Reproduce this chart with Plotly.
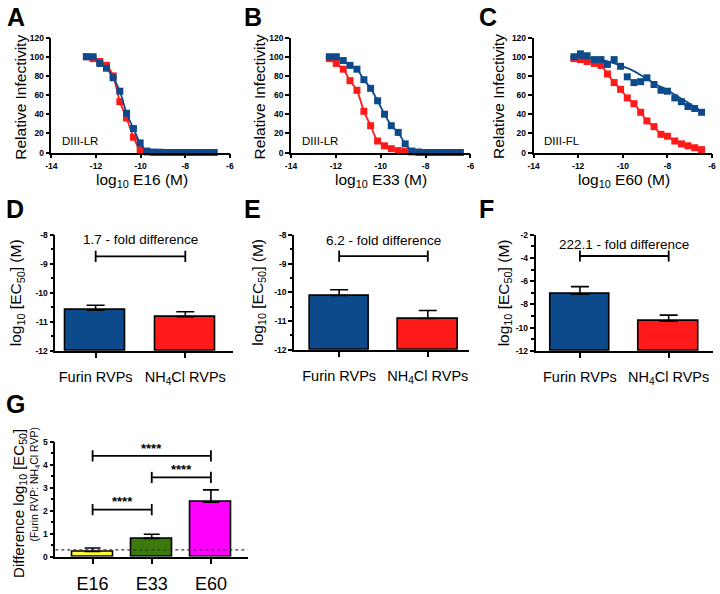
import plotly.graph_objects as go

FONT = "Liberation Sans, Arial, sans-serif"
BLUE = "#0d4a8c"
RED = "#ff1a1a"

# ---------------- data: panels A-C (dose response) ----------------
A_x = [-12.43, -12.13, -11.83, -11.53, -11.23, -10.93, -10.63, -10.32, -10.02, -9.72,
       -9.42, -9.12, -8.82, -8.52, -8.22, -7.92, -7.62, -7.32, -7.01, -6.71]
A_furin = [100, 100, 93, 88, 78, 64, 41, 25, 10, 1.5, 0.5, 0.3, 0, 0, 0, 0, 0, 0, 0, 0]
A_nh4cl = [100, 98, 95, 91, 80, 53, 36, 16, 3, 0.5, 0, 0, 0, 0, 0, 0, 0, 0, 0, 0]

B_x = [-12.29, -11.98, -11.67, -11.37, -11.06, -10.75, -10.45, -10.14, -9.83, -9.53,
       -9.22, -8.91, -8.61, -8.30, -7.99, -7.69, -7.38, -7.07, -6.77, -6.46]
B_furin = [100, 100, 96, 91, 87, 76, 67, 54, 40, 28, 21, 9, 1.5, 0.5, 0, 0, 0, 0, 0, 0]
B_nh4cl = [98, 93, 87, 75, 65, 43, 28, 12, 7, 4, 2, 1, 0.5, 0, 0, 0, 0, 0, 0, 0]

C_x = [-12.19, -11.9, -11.6, -11.28, -10.98, -10.69, -10.39, -10.1, -9.8, -9.5,
       -9.2, -8.92, -8.6, -8.29, -8.0, -7.67, -7.37, -7.08, -6.78, -6.47]
C_furin = [100, 103, 101, 97, 97, 92, 97, 90, 79, 73, 74, 78, 71, 65, 64, 57, 53, 48, 46, 42]
C_nh4cl = [98, 97, 95, 93, 91, 82, 73, 66, 57, 51, 42, 33, 27, 19, 17, 12, 9, 7, 5, 3]
C_furin_fit_x = [-12.19, -11.0, -10.0, -9.5, -9.0, -8.5, -8.0, -7.5, -7.0, -6.47]
C_furin_fit_y = [99, 97, 90, 85, 78, 71, 65, 58, 51, 43]

curve_labels = ["DIII-LR", "DIII-LR", "DIII-FL"]
antibodies = ["E16", "E33", "E60"]

# ---------------- data: panels D-F (EC50) ----------------
rvp_labels = ["Furin RVPs", "NH<sub>4</sub>Cl RVPs"]
D_ec50 = [-10.60, -10.82]
D_err_top = [-10.43, -10.65]
E_ec50 = [-10.11, -10.91]
E_err_top = [-9.91, -10.63]
F_ec50 = [-7.12, -9.44]
F_err_top = [-6.46, -8.92]
fold_texts = ["1.7 - fold difference", "6.2 - fold difference", "222.1 - fold difference"]
fold_bracket_y = [-8.74, -8.74, -3.82]
fold_text_y = [-8.17, -8.2, -2.85]

# ---------------- data: panel G ----------------
G_labels = ["E16", "E33", "E60"]
G_diff = [0.23, 0.80, 2.37]
G_err_top = [0.38, 0.98, 2.91]
G_colors = ["#ffff33", "#3c7a0e", "#ff00ff"]
G_threshold = 0.3
G_pairs = [(0, 2), (1, 2), (0, 1)]
G_bracket_y = [4.39, 3.45, 2.05]
G_star_y = [4.72, 3.78, 2.4]
G_star_text = ["****", "****", "****"]

W, H = 720, 594


def fx(p):
    return p / W


def fy(p):
    return 1 - p / H


fig = go.Figure()

tickfont = dict(family=FONT, size=8.5, color="black", weight="bold")


def axis_style(domain, rng, tickvals, ticktext, minor_dtick=None, anchor=None, font=None):
    d = dict(domain=domain, range=rng, showline=True, linecolor="black", linewidth=1.6,
             ticks="outside", ticklen=4, tickwidth=1.6, tickcolor="black",
             showgrid=False, zeroline=False, tickvals=tickvals, ticktext=ticktext,
             tickfont=font or tickfont, anchor=anchor, fixedrange=True)
    if minor_dtick:
        d["minor"] = dict(ticks="outside", dtick=minor_dtick, ticklen=2.5, tickwidth=1.6,
                          tickcolor="black", showgrid=False)
    return d


layout_axes = {}

# panels A-C
curve_panels = [
    (A_x, A_furin, A_nh4cl, None, None, (46, 227)),
    (B_x, B_furin, B_nh4cl, None, None, (289, 471)),
    (C_x, C_furin, C_nh4cl, C_furin_fit_x, C_furin_fit_y, (535, 716)),
]
xt = [-14, -12, -10, -8, -6]
yt = [0, 20, 40, 60, 80, 100, 120]
for i, (xs, fur, nh, fitx, fity, (x0, x1)) in enumerate(curve_panels):
    n = i + 1
    xa = "x" if n == 1 else f"x{n}"
    ya = "y" if n == 1 else f"y{n}"
    layout_axes["xaxis" if n == 1 else f"xaxis{n}"] = axis_style(
        [fx(x0), fx(x1)], [-14, -6], xt, [str(v) for v in xt], anchor=ya)
    layout_axes["yaxis" if n == 1 else f"yaxis{n}"] = axis_style(
        [fy(154), fy(34)], [0, 120], yt, [str(v) for v in yt], anchor=xa)
    # red (NH4Cl) first, blue (Furin) on top
    fig.add_trace(go.Scatter(x=xs, y=nh, mode="lines+markers", xaxis=xa, yaxis=ya,
                             line=dict(color=RED, width=1.8, shape="spline", smoothing=0.7),
                             marker=dict(symbol="square", size=7, color=RED),
                             cliponaxis=False, showlegend=False))
    if fitx is None:
        fig.add_trace(go.Scatter(x=xs, y=fur, mode="lines+markers", xaxis=xa, yaxis=ya,
                                 line=dict(color=BLUE, width=1.8, shape="spline", smoothing=0.7),
                                 marker=dict(symbol="square", size=7, color=BLUE),
                                 cliponaxis=False, showlegend=False))
    else:
        fig.add_trace(go.Scatter(x=fitx, y=fity, mode="lines", xaxis=xa, yaxis=ya,
                                 line=dict(color=BLUE, width=1.8, shape="spline", smoothing=1),
                                 cliponaxis=False, showlegend=False))
        fig.add_trace(go.Scatter(x=xs, y=fur, mode="markers", xaxis=xa, yaxis=ya,
                                 marker=dict(symbol="square", size=7, color=BLUE),
                                 cliponaxis=False, showlegend=False))
    fig.add_annotation(x=-13.6, y=12, xref=xa, yref=ya, text=curve_labels[i],
                       showarrow=False, xanchor="left", yanchor="middle",
                       font=dict(family=FONT, size=11.5, color="black"))

# panels D-F
bar_panels = [
    (D_ec50, D_err_top, (50, 230), (240, 361), [-0.45, 1.53], [-12, -8], 1, 0.5),
    (E_ec50, E_err_top, (292, 470), (240, 360), [-0.51, 1.47], [-12, -8], 1, 0.5),
    (F_ec50, F_err_top, (537, 717), (240, 361), [-0.5, 1.5], [-12, -2], 2, 1),
]
catfont = dict(family=FONT, size=14.5, color="black")
for j, (vals, tops, (x0, x1), (y0, y1), xr, yr, dt, mdt) in enumerate(bar_panels):
    n = j + 4
    xa, ya = f"x{n}", f"y{n}"
    base = yr[0]
    yv = list(range(yr[0], yr[1] + 1, dt))
    layout_axes[f"xaxis{n}"] = axis_style([fx(x0), fx(x1)], xr, [0, 1], rvp_labels,
                                          anchor=ya, font=catfont)
    layout_axes[f"xaxis{n}"]["ticklen"] = 5
    layout_axes[f"xaxis{n}"]["ticklabelstandoff"] = 7
    layout_axes[f"yaxis{n}"] = axis_style([fy(y1), fy(y0)], yr, yv, [str(v) for v in yv],
                                          minor_dtick=mdt, anchor=xa)
    fig.add_trace(go.Bar(x=[0, 1], y=[v - base for v in vals], base=base, width=0.67,
                         xaxis=xa, yaxis=ya,
                         marker=dict(color=[BLUE, RED], line=dict(color="black", width=1.6)),
                         error_y=dict(type="data", symmetric=False,
                                      array=[t - v for t, v in zip(tops, vals)],
                                      arrayminus=[0, 0], color="black", thickness=1.6, width=9),
                         showlegend=False))
    fig.add_trace(go.Scatter(x=[0, 1], y=[fold_bracket_y[j]] * 2, mode="lines+markers",
                             xaxis=xa, yaxis=ya, line=dict(color="black", width=1.8),
                             marker=dict(symbol="line-ns", size=8,
                                         line=dict(color="black", width=1.8)),
                             cliponaxis=False, showlegend=False))
    fig.add_annotation(x=0.5, y=fold_text_y[j], xref=xa, yref=ya, text=fold_texts[j],
                       showarrow=False, font=dict(family=FONT, size=13.5, color="black"))

# panel G
layout_axes["xaxis7"] = axis_style([fx(50), fx(245)], [-0.63, 2.62], [0, 1, 2], G_labels,
                                   anchor="y7", font=dict(family=FONT, size=18, color="black"))
layout_axes["xaxis7"]["ticklen"] = 5
layout_axes["xaxis7"]["ticklabelstandoff"] = 5
layout_axes["yaxis7"] = axis_style([fy(576), fy(456)], [0, 5], [0, 1, 2, 3, 4, 5],
                                   ["0", "1", "2", "3", "4", "5"], minor_dtick=0.5, anchor="x7")
fig.add_trace(go.Bar(x=[0, 1, 2], y=G_diff, width=0.7, xaxis="x7", yaxis="y7",
                     marker=dict(color=G_colors, line=dict(color="black", width=1.6)),
                     error_y=dict(type="data", symmetric=False,
                                  array=[t - v for t, v in zip(G_err_top, G_diff)],
                                  arrayminus=[0, 0, 0], color="black", thickness=1.6, width=8),
                     showlegend=False))
fig.add_trace(go.Scatter(x=[-0.63, 2.62], y=[G_threshold] * 2, mode="lines", xaxis="x7",
                         yaxis="y7", line=dict(color="#333", width=1.2, dash="dot"),
                         showlegend=False))
for k, (a, b) in enumerate(G_pairs):
    fig.add_trace(go.Scatter(x=[a, b], y=[G_bracket_y[k]] * 2, mode="lines+markers",
                             xaxis="x7", yaxis="y7", line=dict(color="black", width=1.8),
                             marker=dict(symbol="line-ns", size=8,
                                         line=dict(color="black", width=1.8)),
                             cliponaxis=False, showlegend=False))
    fig.add_annotation(x=(a + b) / 2, y=G_star_y[k], xref="x7", yref="y7",
                       text=G_star_text[k], showarrow=False,
                       font=dict(family=FONT, size=13, color="black", weight="bold"))


# ---------------- titles & panel letters (paper coords) ----------------
def paper_note(x, y, text, font, angle=0):
    fig.add_annotation(x=fx(x), y=fy(y), xref="paper", yref="paper", text=text,
                       showarrow=False, xanchor="center", yanchor="middle",
                       textangle=angle, font=font)


lbl = dict(family=FONT, size=25, color="black", weight="bold")
for t, (x, y) in zip("ABCDEFG", [(10, 13), (250, 13), (489, 13), (9, 213), (250, 213),
                                  (487, 213), (10, 417)]):
    paper_note(x, y, t, lbl)

tfont = dict(family=FONT, size=15.5, color="black")
for i, cx in enumerate([138, 380, 627]):
    paper_note(cx, 183, f"log<sub>10</sub> {antibodies[i]} (M)", tfont)
for cx in [15, 258, 500]:
    paper_note(cx, 96, "Relative Infectivity", tfont, -90)
for cx in [11, 256, 505]:
    paper_note(cx, 300, "log<sub>10</sub> [EC<sub>50</sub>] (M)", tfont, -90)
paper_note(13, 520, "Difference log<sub>10</sub> [EC<sub>50</sub>]",
           dict(family=FONT, size=15, color="black"), -90)
paper_note(29, 500, "(Furin RVP: NH<sub>4</sub>Cl RVP)",
           dict(family=FONT, size=10.5, color="black"), -90)

fig.update_layout(width=W, height=H, margin=dict(l=0, r=0, t=0, b=0),
                  paper_bgcolor="white", plot_bgcolor="white", showlegend=False,
                  font=dict(family=FONT, color="black"), bargap=0, **layout_axes)

fig.write_html("out.html", config={"displayModeBar": False},
               post_script="document.body.style.margin='0';document.body.style.padding='0';")
